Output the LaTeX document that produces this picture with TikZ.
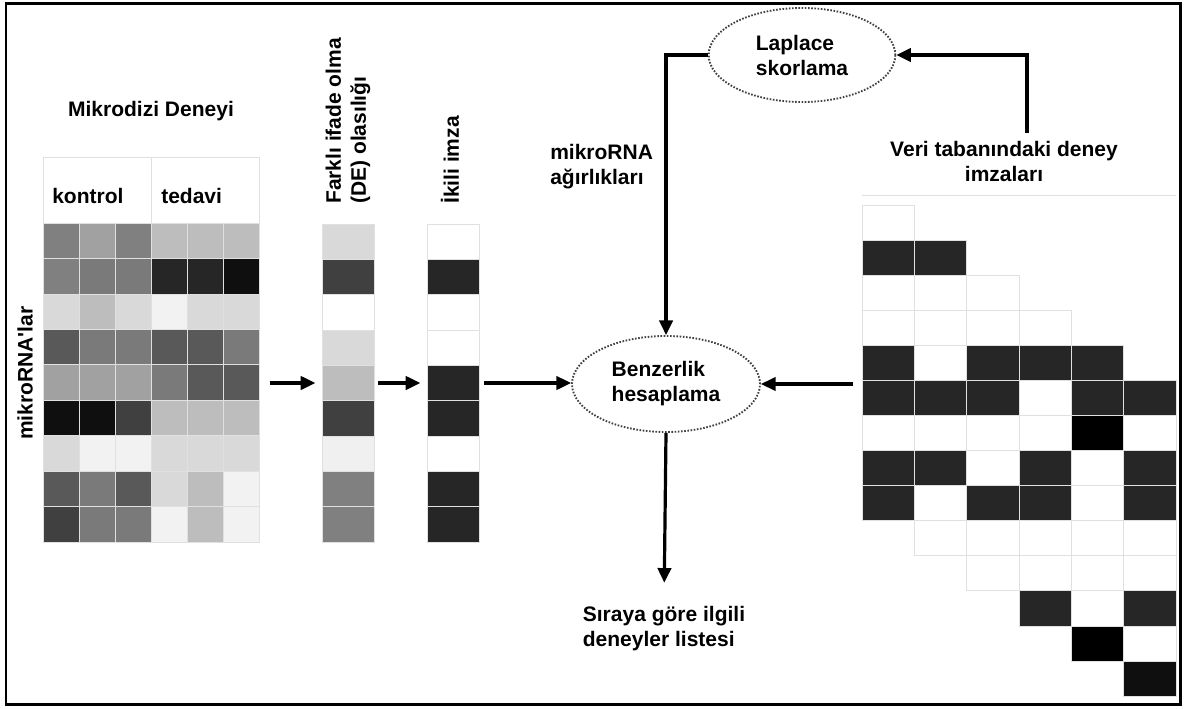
\documentclass[tikz,border=0pt]{standalone}
\usepackage{fontspec}
\setmainfont{Liberation Sans}
\usetikzlibrary{shapes.geometric,arrows.meta}
\begin{document}
\begin{tikzpicture}[x=.75pt,y=-.75pt,
	lbl/.style={font=\bfseries\fontsize{15.75pt}{18.75pt}\selectfont,inner sep=0pt},
	cell/.style={draw=black!12,line width=.5pt},
	blk/.style={inner sep=0pt,outer sep=0pt},
	oval/.style={ellipse,lbl,align=left,draw=black!75,line width=1.4pt,dash pattern=on 1.2pt off 1.2pt},
	arr/.style={line width=2.4pt,-{Triangle[length=11pt,width=10pt]}}]
	\useasboundingbox (0,0) rectangle (1187,709);
	\draw[line width=1.8pt] (6,3.5) rectangle (1180.5,704.5);
	\draw[cell] (43,157) rectangle (151,223);
	\draw[cell] (151,157) rectangle (259,223);
	\foreach \row [count=\r] in {{50,37,50,26,26,26},{50,52,52,85,85,94},{15,26,15,5,15,15},{65,52,52,65,65,52},{37,37,37,52,65,65},{94,94,75,26,26,26},{15,5,5,15,15,15},{65,52,65,15,26,5},{75,52,52,5,26,5}}
		\foreach \v [count=\c] in \row
			\draw[cell,fill=black!\v] ({43+36*(\c-1)},{223+35.44*(\r-1)}) rectangle +(36,35.44);
	\foreach \g/\b [count=\r] in {15/0,75/85,0/0,15/0,26/85,75/85,6/0,50/85,50/85}{
		\draw[cell,fill=black!\g] (322,{224+35.33*(\r-1)}) rectangle +(52,35.33);
		\draw[cell,fill=black!\b] (427,{224+35.33*(\r-1)}) rectangle +(52,35.33);
	}
	\draw[cell] (862,195) -- (1176,195);
	\foreach \row [count=\r] in {{0,-1,-1,-1,-1,-1},{85,85,-1,-1,-1,-1},{0,0,0,-1,-1,-1},{0,0,0,0,-1,-1},{85,0,85,85,85,-1},{85,85,85,0,85,85},{0,0,0,0,100,0},{85,85,0,85,0,85},{85,0,85,85,0,85},{-1,0,0,0,0,0},{-1,-1,0,0,0,0},{-1,-1,-1,85,0,85},{-1,-1,-1,-1,100,0},{-1,-1,-1,-1,-1,94}}
		\foreach \v [count=\c] in \row {
			\ifnum\v<0 \else\draw[cell,fill=black!\v] ({862+52.33*(\c-1)},{205+35.07*(\r-1)}) rectangle +(52.33,35.07);\fi
		}
	\node[blk,minimum width=162pt,minimum height=239.25pt] (heat) at (151,383) {};
	\node[blk,minimum width=39pt,minimum height=238.5pt] (de) at (348,383) {};
	\node[blk,minimum width=39pt,minimum height=238.5pt] (bin) at (453,383) {};
	\node[blk,minimum width=235.5pt,minimum height=368.25pt] (db) at (1019,450.5) {};
	\node[lbl,anchor=base] (mikro) at (151,117) {Mikrodizi Deneyi};
	\node[lbl,anchor=base west] (kontrol) at (52,204) {kontrol};
	\node[lbl,anchor=base west] (tedavi) at (161,204) {tedavi};
	\node[lbl,rotate=90,anchor=west] (mirna) at (25,440) {mikroRNA\textquotesingle lar};
	\node[lbl,rotate=90,anchor=west,align=left] (fark) at (348,204) {Farklı ifade olma\\(DE) olasılığı};
	\node[lbl,rotate=90,anchor=west] (ikili) at (450,204) {İkili imza};
	\node[oval,minimum width=140pt,minimum height=70.5pt] (lap) at (802,55) {Laplace\\skorlama};
	\node[oval,minimum width=141pt,minimum height=72pt] (sim) at (666,384) {Benzerlik\\hesaplama};
	\node[lbl,align=left,anchor=west] (agirlik) at (550,167) {mikroRNA\\ağırlıkları};
	\node[lbl,align=center] (veri) at (1004,161) {Veri tabanındaki deney\\imzaları};
	\node[lbl,align=left] (liste) at (664,629) {Sıraya göre ilgili\\deneyler listesi};
	\coordinate (vtop) at (1027,133);
	\draw[arr,shorten <=8pt,shorten >=5pt] (heat.east) -- (de.west);
	\draw[arr,shorten <=3pt,shorten >=5pt] (de.east) -- (bin.west);
	\draw[arr,shorten <=4pt] (bin.east) -- (bin.east -| sim.west);
	\draw[arr,shorten <=7pt] (db.west |- sim.east) -- (sim.east);
	\draw[arr] (lap.west) -| (sim.north);
	\draw[arr] (vtop) |- (lap.east);
	\draw[arr,shorten >=17.8pt] (sim.south) -- (liste.north);
\end{tikzpicture}
\end{document}
